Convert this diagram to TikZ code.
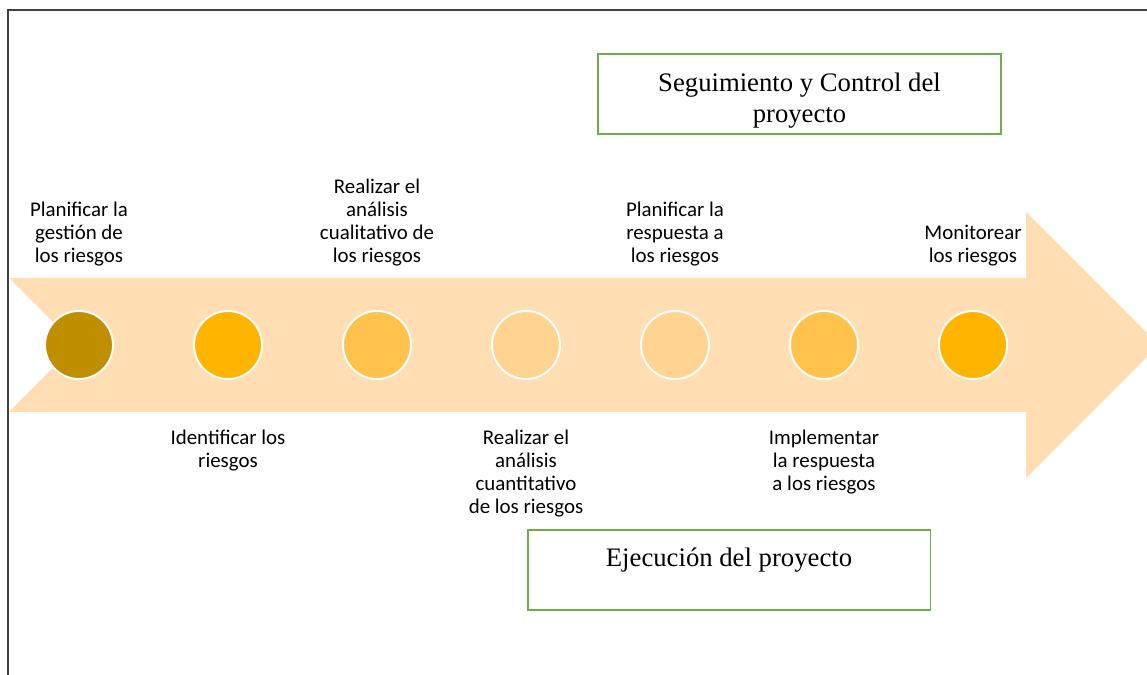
\documentclass[tikz,border=0pt]{standalone}
\usepackage{fontspec}
\setmainfont{Liberation Serif}
\newfontfamily\calibri{Carlito}
\usetikzlibrary{positioning}

\definecolor{pfeil}{RGB}{255,222,179}
\definecolor{kreisA}{RGB}{191,143,0}
\definecolor{kreisB}{RGB}{255,180,0}
\definecolor{kreisC}{RGB}{255,194,77}
\definecolor{kreisD}{RGB}{255,212,145}
\definecolor{rahmen}{RGB}{112,173,71}
\definecolor{linie}{RGB}{64,64,64}

\tikzset{
  kreis/.style={circle, fill=#1, draw=white, line width=1.1pt, minimum size=1.36cm, inner sep=0pt},
  etikett/.style={align=center, inner sep=0pt, font=\calibri\fontsize{11.9}{13.1}\selectfont},
  kasten/.style={draw=rahmen, line width=1.1pt, minimum width=8.06cm, minimum height=1.6cm, inner sep=0pt},
  titel/.style={align=center, inner sep=0pt, font=\fontsize{15.2}{17.6}\selectfont}
}

\begin{document}
\begin{tikzpicture}[x=0.02cm, y=-0.02cm]

                  \useasboundingbox (0,0) rectangle (1147,675);
                  % Rahmenlinien
                  \draw[linie, line width=0.9pt] (8,675) -- (8,10) -- (1147,10);

                  % Pfeil (Spitze wird abgeschnitten)
                  \begin{scope}
                    \clip (0,0) rectangle (1147,675);
                    \fill[pfeil] (9,278) -- (1026,278) -- (1026,212) -- (1159,345) -- (1026,478)
                                 -- (1026,412) -- (9,412) -- (76,345) -- cycle;
                  \end{scope}

                  % Kreise
                  \foreach \i/\x/\farbe in {1/79/kreisA, 2/228/kreisB, 3/377/kreisC, 4/526/kreisD,
                                            5/675/kreisD, 6/824/kreisC, 7/973/kreisB} {
                          \node[kreis=\farbe] (c\i) at (\x,345) {};
                      }

                  % Beschriftungen oben
                  \node[etikett, above=0.88cm of c1] (t1) {Planificar la\\gestión de\\los riesgos};
                  \node[etikett, above=0.88cm of c3] (t3) {Realizar el\\análisis\\cualitativo de\\los riesgos};
                  \node[etikett, above=0.88cm of c5] (t5) {Planificar la\\respuesta a\\los riesgos};
                  \node[etikett, above=0.88cm of c7] (t7) {Monitorear\\los riesgos};

                  % Beschriftungen unten
                  \node[etikett, below=1.0cm of c2] (t2) {Identificar los\\riesgos};
                  \node[etikett, below=1.0cm of c4] (t4) {Realizar el\\análisis\\cuantitativo\\de los riesgos};
                  \node[etikett, below=1.0cm of c6] (t6) {Implementar\\la respuesta\\a los riesgos};

                  % Kaesten
                  \node[kasten] (kontrolle) at (799.5,94) {};
                  \node[titel, anchor=north] (kontrolletext) at ([yshift=-0.4cm]kontrolle.north) {Seguimiento y Control del\\proyecto};
                  \node[kasten] (ejecucion) at (729,570) {};
                  \node[titel, anchor=north] (ejecuciontext) at ([yshift=-0.38cm]ejecucion.north) {Ejecución del proyecto};
              \end{tikzpicture}
\end{document}
